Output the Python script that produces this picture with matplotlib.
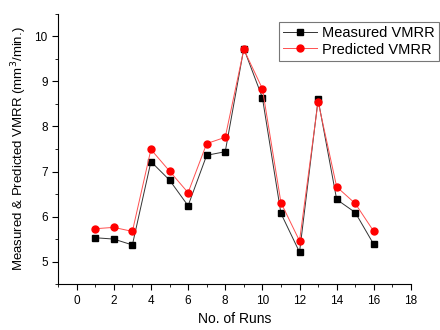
import matplotlib
matplotlib.use("Agg")
import matplotlib.pyplot as plt
from matplotlib.ticker import MultipleLocator

plt.rcParams['font.family'] = ['Liberation Sans', 'DejaVu Sans']

runs = [1, 2, 3, 4, 5, 6, 7, 8, 9, 10, 11, 12, 13, 14, 15, 16]
measured = [5.53, 5.50, 5.37, 7.22, 6.81, 6.24, 7.36, 7.44, 9.73, 8.64,
            6.07, 5.21, 8.60, 6.38, 6.09, 5.38]
predicted = [5.73, 5.76, 5.67, 7.49, 7.01, 6.53, 7.62, 7.76, 9.71, 8.84,
             6.31, 5.46, 8.55, 6.66, 6.29, 5.67]

fig = plt.figure(figsize=(4.4, 3.3), dpi=100)
ax = fig.add_axes([0.132, 0.139, 0.802, 0.819])

ax.plot(runs, measured, color='#333333', lw=0.7, marker='s', ms=4.5,
        mfc='black', mec='black', label='Measured VMRR')
ax.plot(runs, predicted, color='#ff5050', lw=0.7, marker='o', ms=5,
        mfc='red', mec='red', label='Predicted VMRR')

ax.set_xlim(-1, 18)
ax.set_ylim(4.5, 10.5)
ax.xaxis.set_major_locator(MultipleLocator(2))
ax.xaxis.set_minor_locator(MultipleLocator(1))
ax.yaxis.set_major_locator(MultipleLocator(1))
ax.yaxis.set_minor_locator(MultipleLocator(0.5))
ax.spines['top'].set_visible(False)
ax.spines['right'].set_visible(False)
ax.tick_params(which='both', direction='out', labelsize=8.5)
ax.tick_params(which='major', length=4)
ax.tick_params(which='minor', length=2)

ax.set_xlabel('No. of Runs', fontsize=10)
ax.set_ylabel('Measured & Predicted VMRR (mm$^3$/min.)', fontsize=9.5)

leg = ax.legend(loc='upper right', bbox_to_anchor=(1.079, 0.97), fontsize=10.5,
                frameon=True, fancybox=False, edgecolor='#555555',
                handlelength=2.3, borderpad=0.3, labelspacing=0.15,
                handletextpad=0.35, borderaxespad=0.0)
leg.get_frame().set_linewidth(0.8)

fig.savefig('out.png', dpi=100)
